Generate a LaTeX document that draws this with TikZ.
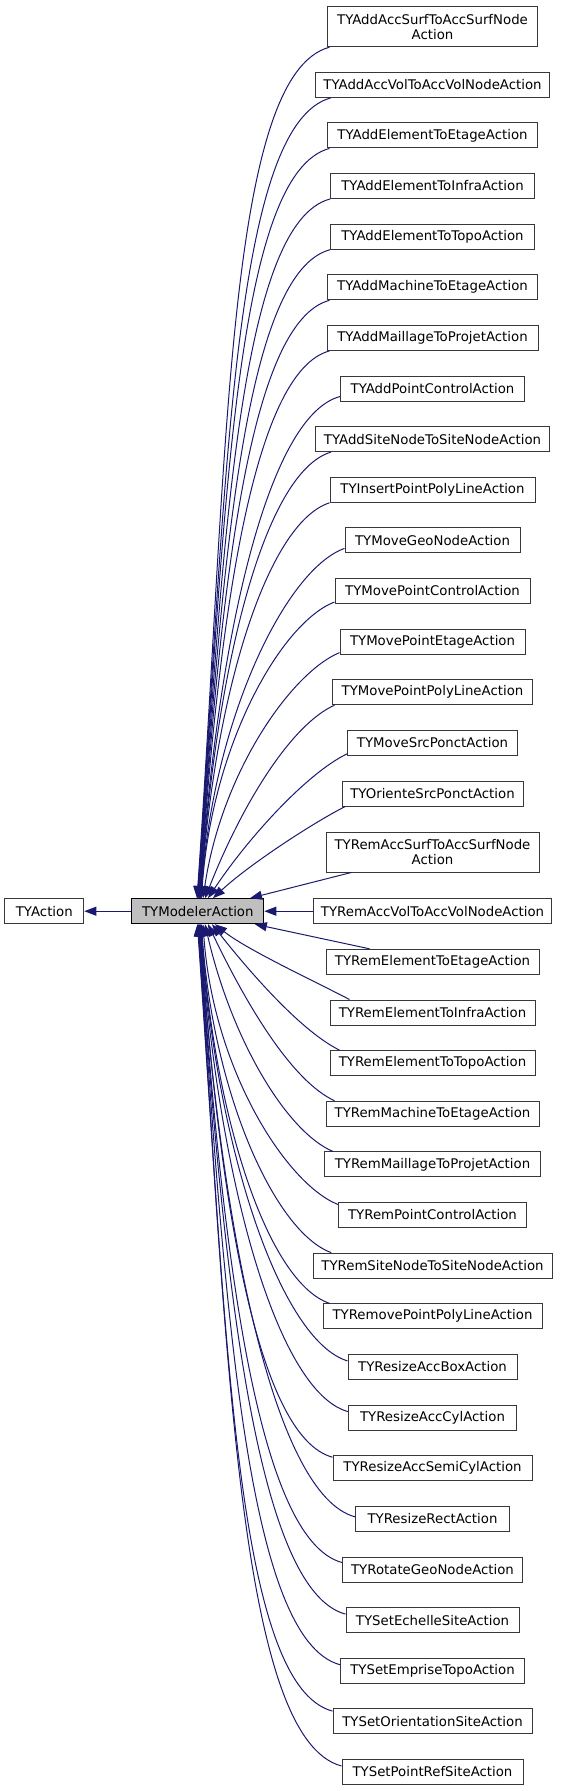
\documentclass[tikz,border=0pt]{standalone}
\usepackage{fontspec}
\setmainfont{DejaVu Sans}
\usetikzlibrary{arrows.meta}
\definecolor{edgeblue}{HTML}{191970}
\definecolor{boxline}{HTML}{383838}
\definecolor{mafill}{HTML}{BFBFBF}
\begin{document}
\begin{tikzpicture}[x=1pt,y=1pt,
  cls/.style={draw=boxline, line width=1pt, fill=white, minimum height=25pt,
    inner sep=0pt, align=center, font=\fontsize{13.3}{15}\selectfont, text=black},
  twoline/.style={minimum height=40pt},
  edge/.style={draw=edgeblue, line width=1pt, -{Triangle[length=12pt,width=9pt]}}]
\useasboundingbox (0,0) rectangle (560,-1791);

% base classes
\node[cls, fill=mafill, draw=black, minimum width=132pt] (ma) at (197.8,-911.2) {TYModelerAction};
\node[cls, minimum width=79pt] (act) at (44.3,-911.2) {TYAction};

% derived classes
\node[cls, twoline, minimum width=210pt] (c1) at (432.5,-26.7) {TYAddAccSurfToAccSurfNode\\Action};
\node[cls, minimum width=234pt] (c2) at (432.5,-84.8) {TYAddAccVolToAccVolNodeAction};
\node[cls, minimum width=210pt] (c3) at (432.5,-135.4) {TYAddElementToEtageAction};
\node[cls, minimum width=204pt] (c4) at (432.5,-186.0) {TYAddElementToInfraAction};
\node[cls, minimum width=204pt] (c5) at (432.5,-236.7) {TYAddElementToTopoAction};
\node[cls, minimum width=210pt] (c6) at (432.5,-287.3) {TYAddMachineToEtageAction};
\node[cls, minimum width=211pt] (c7) at (432.5,-337.9) {TYAddMaillageToProjetAction};
\node[cls, minimum width=184pt] (c8) at (432.5,-388.5) {TYAddPointControlAction};
\node[cls, minimum width=234pt] (c9) at (432.5,-439.1) {TYAddSiteNodeToSiteNodeAction};
\node[cls, minimum width=205pt] (c10) at (432.5,-489.8) {TYInsertPointPolyLineAction};
\node[cls, minimum width=175pt] (c11) at (432.5,-540.4) {TYMoveGeoNodeAction};
\node[cls, minimum width=195pt] (c12) at (432.5,-591.0) {TYMovePointControlAction};
\node[cls, minimum width=185pt] (c13) at (432.5,-641.6) {TYMovePointEtageAction};
\node[cls, minimum width=200pt] (c14) at (432.5,-692.2) {TYMovePointPolyLineAction};
\node[cls, minimum width=170pt] (c15) at (432.5,-742.9) {TYMoveSrcPonctAction};
\node[cls, minimum width=181pt] (c16) at (432.5,-793.5) {TYOrienteSrcPonctAction};
\node[cls, twoline, minimum width=213pt] (c17) at (432.5,-852.0) {TYRemAccSurfToAccSurfNode\\Action};
\node[cls, minimum width=238pt] (c18) at (432.5,-911.2) {TYRemAccVolToAccVolNodeAction};
\node[cls, minimum width=213pt] (c19) at (432.5,-961.8) {TYRemElementToEtageAction};
\node[cls, minimum width=205pt] (c20) at (432.5,-1012.5) {TYRemElementToInfraAction};
\node[cls, minimum width=205pt] (c21) at (432.5,-1063.1) {TYRemElementToTopoAction};
\node[cls, minimum width=213pt] (c22) at (432.5,-1113.7) {TYRemMachineToEtageAction};
\node[cls, minimum width=216pt] (c23) at (432.5,-1164.4) {TYRemMaillageToProjetAction};
\node[cls, minimum width=188pt] (c24) at (432.5,-1215.0) {TYRemPointControlAction};
\node[cls, minimum width=239pt] (c25) at (432.5,-1265.6) {TYRemSiteNodeToSiteNodeAction};
\node[cls, minimum width=219pt] (c26) at (432.5,-1316.3) {TYRemovePointPolyLineAction};
\node[cls, minimum width=169pt] (c27) at (432.5,-1366.9) {TYResizeAccBoxAction};
\node[cls, minimum width=168pt] (c28) at (432.5,-1417.6) {TYResizeAccCylAction};
\node[cls, minimum width=199pt] (c29) at (432.5,-1468.2) {TYResizeAccSemiCylAction};
\node[cls, minimum width=154pt] (c30) at (432.5,-1518.8) {TYResizeRectAction};
\node[cls, minimum width=180pt] (c31) at (432.5,-1569.5) {TYRotateGeoNodeAction};
\node[cls, minimum width=173pt] (c32) at (432.5,-1620.1) {TYSetEchelleSiteAction};
\node[cls, minimum width=184pt] (c33) at (432.5,-1670.7) {TYSetEmpriseTopoAction};
\node[cls, minimum width=199pt] (c34) at (432.5,-1721.4) {TYSetOrientationSiteAction};
\node[cls, minimum width=181pt] (c35) at (432.5,-1772.0) {TYSetPointRefSiteAction};

% inheritance edges
\draw[edge] (ma) -- (act);

% upper fan
\draw[edge] ([xshift=2.5pt]c1.south west) to[out=195,in=86,out distance=106.7pt,in distance=443pt] ([xshift=-0.8pt]ma.north);
\draw[edge] ([xshift=16pt]c2.south west) to[out=195,in=86,out distance=102pt,in distance=417pt] ([xshift=-0.4pt]ma.north);
\draw[edge] ([xshift=2.5pt]c3.south west) to[out=195,in=86,out distance=97.6pt,in distance=390pt] (ma.north);
\draw[edge] (c4.south west) to[out=195,in=86,out distance=93pt,in distance=364pt] ([xshift=0.4pt]ma.north);
\draw[edge] (c5.south west) to[out=195,in=86,out distance=88.5pt,in distance=338pt] ([xshift=0.8pt]ma.north);
\draw[edge] ([xshift=2.5pt]c6.south west) to[out=195,in=86,out distance=84pt,in distance=311pt] ([xshift=1.2pt]ma.north);
\draw[edge] ([xshift=3pt]c7.south west) to[out=195,in=86,out distance=79pt,in distance=285pt] ([xshift=1.6pt]ma.north);
\draw[edge] ([yshift=5pt]c8.south west) to[out=195,in=86,out distance=75pt,in distance=261pt] ([xshift=2pt]ma.north);
\draw[edge] ([xshift=16pt]c9.south west) to[out=196.6,in=86,out distance=70pt,in distance=232pt] ([xshift=2.4pt]ma.north);
\draw[edge] (c10.south west) to[out=198,in=86,out distance=65.6pt,in distance=206pt] ([xshift=2.8pt]ma.north);
\draw[edge] ([yshift=5pt]c11.south west) to[out=199.5,in=86,out distance=61.6pt,in distance=182pt] ([xshift=3.2pt]ma.north);
\draw[edge] ([yshift=2pt]c12.south west) to[out=201,in=86,out distance=56.7pt,in distance=155pt] ([xshift=3.6pt]ma.north);
\draw[edge] ([yshift=2pt]c13.south west) to[out=202.6,in=81.6,out distance=52pt,in distance=128pt] ([xshift=5.2pt]ma.north);
\draw[edge] ([xshift=2.5pt]c14.south west) to[out=204,in=68.5,out distance=47.5pt,in distance=101pt] ([xshift=7.2pt]ma.north);
\draw[edge] ([yshift=2pt]c15.south west) to[out=205.6,in=56.3,out distance=43pt,in distance=75.6pt] ([xshift=10.2pt]ma.north);
\draw[edge] ([xshift=3.7pt]c16.south west) to[out=207,in=43,out distance=38.3pt,in distance=48pt] ([xshift=15.2pt]ma.north);

% straight edges
\draw[edge] ([xshift=25.7pt]c17.south west) -- ([xshift=52.2pt]ma.north);
\draw[edge] (c18) -- (ma);
\draw[edge] ([xshift=44pt]c19.north west) -- ([xshift=57pt]ma.south);

% lower fan
\draw[edge] ([xshift=20pt]c20.north west) to[out=152.3,in=-39,out distance=36.9pt,in distance=39.7pt] ([xshift=17.2pt]ma.south);
\draw[edge] ([xshift=10pt]c21.north west) to[out=153.8,in=-51.7,out distance=41.4pt,in distance=66pt] ([xshift=14.2pt]ma.south);
\draw[edge] ([xshift=9pt]c22.north west) to[out=155.3,in=-64.4,out distance=46pt,in distance=92.3pt] ([xshift=10.2pt]ma.south);
\draw[edge] ([xshift=8.8pt]c23.north west) to[out=156.8,in=-77,out distance=50.5pt,in distance=118.7pt] ([xshift=7.2pt]ma.south);
\draw[edge] ([yshift=-2.5pt]c24.north west) to[out=158.4,in=-86,out distance=55.3pt,in distance=146.3pt] ([xshift=5.2pt]ma.south);
\draw[edge] ([xshift=18.7pt]c25.north west) to[out=159.9,in=-86,out distance=59.6pt,in distance=171.3pt] ([xshift=3.6pt]ma.south);
\draw[edge] ([xshift=7pt]c26.north west) to[out=161.4,in=-86,out distance=64.2pt,in distance=197.7pt] ([xshift=3.2pt]ma.south);
\draw[edge] ([yshift=-7pt]c27.north west) to[out=163.1,in=-86,out distance=69.4pt,in distance=227.6pt] ([xshift=2.8pt]ma.south);
\draw[edge] ([yshift=-7pt]c28.north west) to[out=164.6,in=-86,out distance=74pt,in distance=254pt] ([xshift=2.4pt]ma.south);
\draw[edge] ([yshift=-2pt]c29.north west) to[out=165,in=-86,out distance=78pt,in distance=277.7pt] ([xshift=2pt]ma.south);
\draw[edge] ([yshift=-11pt]c30.north west) to[out=165,in=-86,out distance=83.4pt,in distance=308.5pt] ([xshift=1.6pt]ma.south);
\draw[edge] ([yshift=-6pt]c31.north west) to[out=165,in=-86,out distance=87.5pt,in distance=332.4pt] ([xshift=1.2pt]ma.south);
\draw[edge] ([yshift=-7pt]c32.north west) to[out=165,in=-86,out distance=92.2pt,in distance=359.5pt] ([xshift=0.8pt]ma.south);
\draw[edge] ([yshift=-7pt]c33.north west) to[out=165,in=-86,out distance=96.7pt,in distance=385.5pt] ([xshift=0.4pt]ma.south);
\draw[edge] ([yshift=-2.7pt]c34.north west) to[out=165,in=-86,out distance=101pt,in distance=409.8pt] (ma.south);
\draw[edge] ([yshift=-7pt]c35.north west) to[out=165,in=-86,out distance=105.9pt,in distance=438.3pt] ([xshift=-0.4pt]ma.south);
\end{tikzpicture}
\end{document}
